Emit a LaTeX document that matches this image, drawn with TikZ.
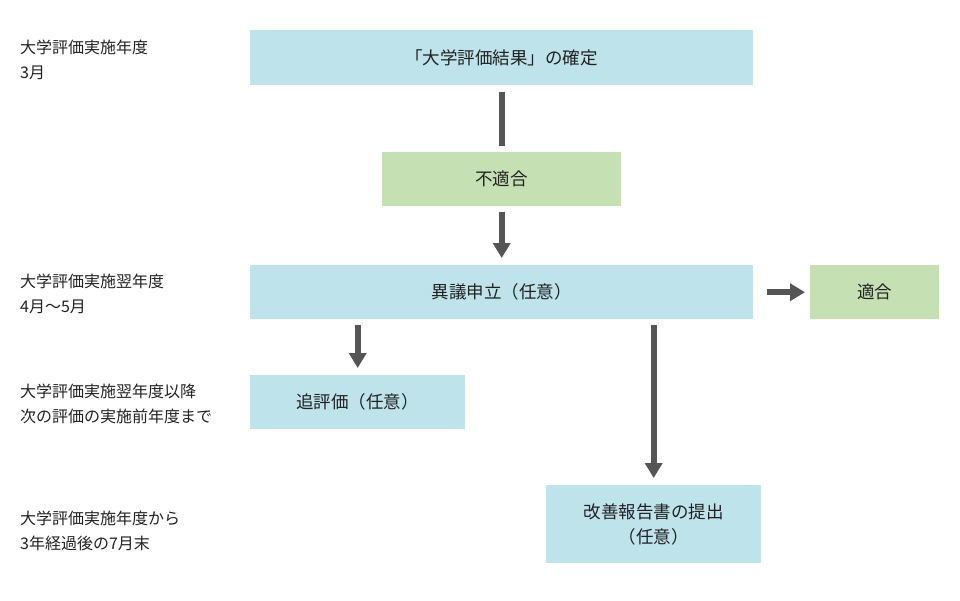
\documentclass[tikz,border=0pt]{standalone}
\usepackage{fontspec}
\setmainfont{Noto Sans CJK JP}
\usetikzlibrary{arrows.meta}
\definecolor{bluebox}{HTML}{BEE3EA}
\definecolor{greenbox}{HTML}{C5E0B3}
\definecolor{arrowc}{HTML}{555555}
\definecolor{txt}{HTML}{222222}
\begin{document}
\begin{tikzpicture}[x=1pt,y=-1pt,
  box/.style={draw=none,anchor=north west,inner sep=0pt,align=center,text=txt,font=\fontsize{17.5}{25}\selectfont},
  bbox/.style={box,fill=bluebox},
  gbox/.style={box,fill=greenbox},
  lab/.style={anchor=west,align=left,text=txt,font=\fontsize{16}{25}\selectfont,inner sep=0pt},
  conn/.style={draw=arrowc,line width=6pt},
  arr/.style={conn,-{Triangle[width=17pt,length=15pt]}}]
\useasboundingbox (0,0) rectangle (960,600);
\fill[white] (0,0) rectangle (960,600);
\node[bbox,minimum width=503pt,minimum height=55pt] (b1) at (250,30) {「大学評価結果」の確定};
\node[gbox,minimum width=239pt,minimum height=54pt] (b2) at (382,152) {不適合};
\node[bbox,minimum width=503pt,minimum height=54pt] (b3) at (250,265) {異議申立（任意）};
\node[gbox,minimum width=129pt,minimum height=54pt] (b4) at (810,265) {適合};
\node[bbox,minimum width=215pt,minimum height=54pt] (b5) at (250,375) {追評価（任意）};
\node[bbox,minimum width=215pt,minimum height=78pt] (b6) at (546,485) {改善報告書の提出\\（任意）};
\node[lab] (l1) at (20,60) {大学評価実施年度\\3月};
\node[lab] (l2) at (20,294) {大学評価実施翌年度\\4月〜5月};
\node[lab] (l3) at (20,404) {大学評価実施翌年度以降\\次の評価の実施前年度まで};
\node[lab] (l4) at (20,531) {大学評価実施年度から\\3年経過後の7月末};
\draw[conn,shorten <=7pt,shorten >=6pt] (b1.south) -- (b2.north);
\draw[arr,shorten <=6pt,shorten >=7pt] (b2.south) -- (b3.north);
\draw[arr,shorten <=14pt,shorten >=5pt] (b3.east) -- (b4.west);
\draw[arr,shorten <=6pt,shorten >=7pt] (b3.south -| b5.north) -- (b5.north);
\draw[arr,shorten <=6pt,shorten >=7pt] (b3.south -| b6.north) -- (b6.north);
\end{tikzpicture}
\end{document}
